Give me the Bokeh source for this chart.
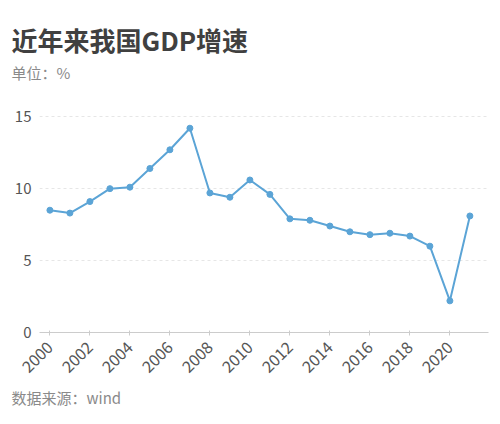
from math import pi

from bokeh.plotting import figure
from bokeh.models import Title, Range1d, SingleIntervalTicker, FixedTicker
from bokeh.embed import file_html
from bokeh.resources import INLINE

years = list(range(2000, 2022))
growth = [8.5, 8.3, 9.1, 10.0, 10.1, 11.4, 12.7, 14.2, 9.7, 9.4, 10.6,
          9.6, 7.9, 7.8, 7.4, 7.0, 6.8, 6.9, 6.7, 6.0, 2.2, 8.1]
y_ticks = [0, 5, 10, 15]

title_text = "近年来我国GDP增速"
unit_text = "单位：%"
source_text = "数据来源：wind"

font = "Noto Sans CJK SC"
line_color = "#5ba4d6"

p = figure(output_backend="svg", toolbar_location=None,
           x_range=Range1d(1999.48, 2021.93), y_range=Range1d(0, 15.5),
           frame_width=449, frame_height=223,
           min_border_left=39, min_border_right=4, min_border_top=109, min_border_bottom=84)
p.outline_line_color = None

p.add_layout(Title(text=unit_text, text_font=font, text_font_size="15px",
                   text_color="#8a8a8a", text_font_style="normal", align="left",
                   offset=-28, standoff=54), "above")
p.add_layout(Title(text=title_text, text_font=font, text_font_size="26px",
                   text_color="#404040", text_font_style="bold", align="left",
                   offset=-28, standoff=-50), "above")
p.add_layout(Title(text=source_text, text_font=font, text_font_size="15px",
                   text_color="#8a8a8a", text_font_style="normal", align="left",
                   offset=-28, standoff=7), "below")

p.line(years, growth, line_color=line_color, line_width=2)
p.scatter(years, growth, size=6, fill_color=line_color, line_color=line_color)

p.xgrid.visible = False
p.ygrid.grid_line_color = "#e6e6e6"
p.ygrid.grid_line_dash = "3 3"
p.ygrid.ticker = FixedTicker(ticks=[5, 10, 15])

p.xaxis.ticker = SingleIntervalTicker(interval=2, num_minor_ticks=0)
p.xaxis.major_label_orientation = pi / 4
p.xaxis.axis_line_color = "#cccccc"
p.xaxis.major_tick_line_color = "#cccccc"
p.xaxis.major_tick_in = 2
p.xaxis.major_tick_out = 3
p.xaxis.minor_tick_line_color = None
p.xaxis.major_label_text_font = font
p.xaxis.major_label_text_font_size = "16px"
p.xaxis.major_label_text_color = "#555555"
p.xaxis.major_label_standoff = 9

p.yaxis.ticker = FixedTicker(ticks=y_ticks)
p.yaxis.axis_line_color = None
p.yaxis.major_tick_line_color = None
p.yaxis.minor_tick_line_color = None
p.yaxis.major_label_text_font = font
p.yaxis.major_label_text_font_size = "15px"
p.yaxis.major_label_text_color = "#555555"
p.yaxis.major_label_standoff = 2

open("out.html", "w").write(file_html(p, INLINE))
